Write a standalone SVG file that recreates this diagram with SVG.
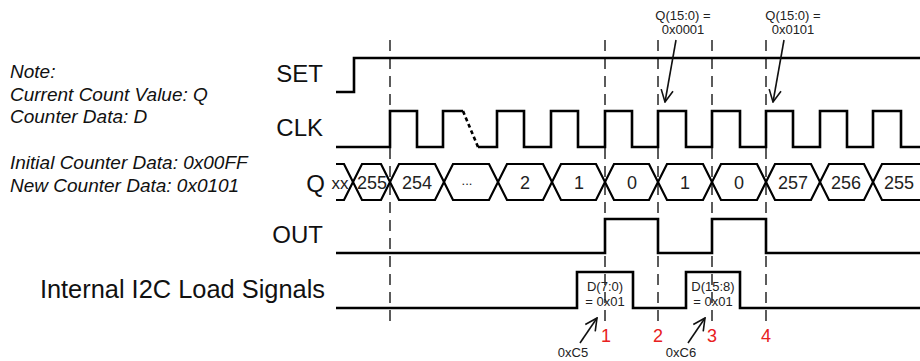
<svg xmlns="http://www.w3.org/2000/svg" width="920" height="361" viewBox="0 0 920 361">
<style>
.wave{fill:none;stroke:#000;stroke-width:2.6;stroke-linejoin:miter}
.guide{fill:none;stroke:#333;stroke-width:1.6;stroke-dasharray:11,7}
.lbl{font-family:"Liberation Sans",Arial,sans-serif;font-size:24px;fill:#111}
.note{font-family:"Liberation Sans",Arial,sans-serif;font-size:19px;font-style:italic;fill:#111}
.val{font-family:"Liberation Sans",Arial,sans-serif;font-size:18px;fill:#222;text-anchor:middle}
.sm{font-family:"Liberation Sans",Arial,sans-serif;font-size:13px;fill:#222;text-anchor:middle}
.num{font-family:"Liberation Sans",Arial,sans-serif;font-size:18px;fill:#e82020;text-anchor:middle}
.arr{fill:none;stroke:#111;stroke-width:1.6;marker-end:url(#open)}
</style>
<defs>
<marker id="open" viewBox="0 0 14 14" refX="13" refY="7" markerWidth="14" markerHeight="14" markerUnits="userSpaceOnUse" orient="auto">
<path d="M1,1 L13,7 L1,13" fill="none" stroke="#111" stroke-width="1.6"/>
</marker>
</defs>
<rect width="920" height="361" fill="#fff"/>

<g id="notes">
<text class="note" x="10" y="78">Note:</text>
<text class="note" x="10" y="101">Current Count Value: Q</text>
<text class="note" x="10" y="123">Counter Data: D</text>
<text class="note" x="10" y="169">Initial Counter Data: 0x00FF</text>
<text class="note" x="10" y="192">New Counter Data: 0x0101</text>
</g>

<g id="guides">
<line class="guide" x1="390" y1="40" x2="390" y2="328"/>
<line class="guide" x1="605" y1="40" x2="605" y2="328"/>
<line class="guide" x1="658" y1="40" x2="658" y2="328"/>
<line class="guide" x1="712" y1="40" x2="712" y2="328"/>
<line class="guide" x1="766" y1="40" x2="766" y2="328"/>
</g>

<g id="set">
<text class="lbl" x="323" y="82" text-anchor="end">SET</text>
<path class="wave" d="M336,92 H354 V58 H920"/>
</g>

<g id="clk">
<text class="lbl" x="323" y="136" text-anchor="end">CLK</text>
<path class="wave" d="M336,147 H390 V111 H417 V147 H443 V111 H463"/>
<path class="wave" d="M463,111 L478,147" style="stroke-dasharray:4,3"/>
<path class="wave" d="M478,147 H497 V111 H524 V147 H551 V111 H578 V147 H605 V111 H632 V147 H658 V111 H686 V147 H712 V111 H740 V147 H766 V111 H793 V147 H820 V111 H847 V147 H873 V111 H901 V147 H920"/>
</g>

<g id="q">
<text class="lbl" x="325" y="192" text-anchor="end">Q</text>
<path class="wave" style="stroke-width:2.2" d="M336,164 H344 L362,200 H381 L399,164 H435 L453,200 H489 L507,164 H543 L561,200 H596 L614,164 H649 L667,200 H703 L721,164 H757 L775,200 H811 L829,164 H864 L882,200 H920"/>
<path class="wave" style="stroke-width:2.2" d="M336,200 H344 L362,164 H381 L399,200 H435 L453,164 H489 L507,200 H543 L561,164 H596 L614,200 H649 L667,164 H703 L721,200 H757 L775,164 H811 L829,200 H864 L882,164 H920"/>
<text class="val" x="340" y="189" style="font-size:17px">xx</text>
<text class="val" x="372" y="189">255</text>
<text class="val" x="417" y="189">254</text>
<text class="val" x="467" y="185" style="font-size:13px">...</text>
<text class="val" x="525" y="189">2</text>
<text class="val" x="579" y="189">1</text>
<text class="val" x="632" y="189">0</text>
<text class="val" x="685" y="189">1</text>
<text class="val" x="739" y="189">0</text>
<text class="val" x="793" y="189">257</text>
<text class="val" x="846" y="189">256</text>
<text class="val" x="899" y="189">255</text>
</g>

<g id="out">
<text class="lbl" x="323" y="243" text-anchor="end">OUT</text>
<path class="wave" d="M336,253 H605 V219 H658 V253 H712 V219 H766 V253 H920"/>
</g>

<g id="load">
<text class="lbl" x="325" y="298" text-anchor="end" style="font-size:25.4px">Internal I2C Load Signals</text>
<path class="wave" d="M336,308 H577 V272 H633 V308 H686 V272 H740 V308 H920"/>
<text class="sm" x="605" y="291">D(7:0)</text>
<text class="sm" x="605" y="306">= 0x01</text>
<text class="sm" x="713" y="291">D(15:8)</text>
<text class="sm" x="713" y="306">= 0x01</text>
</g>

<g id="markers">
<text class="num" x="606" y="342">1</text>
<text class="num" x="658" y="342">2</text>
<text class="num" x="712" y="342">3</text>
<text class="num" x="766" y="342">4</text>
</g>

<g id="annotations">
<text class="sm" x="683" y="20">Q(15:0) =</text>
<text class="sm" x="683" y="34">0x0001</text>
<text class="sm" x="793" y="20">Q(15:0) =</text>
<text class="sm" x="793" y="34">0x0101</text>
<text class="sm" x="573" y="357">0xC5</text>
<text class="sm" x="681" y="357">0xC6</text>
</g>

<g id="connectors">
<line class="arr" x1="676" y1="40" x2="665" y2="102"/>
<line class="arr" x1="784" y1="40" x2="773" y2="102"/>
<line class="arr" x1="580" y1="343" x2="597" y2="318"/>
<line class="arr" x1="688" y1="343" x2="705" y2="318"/>
</g>
</svg>
